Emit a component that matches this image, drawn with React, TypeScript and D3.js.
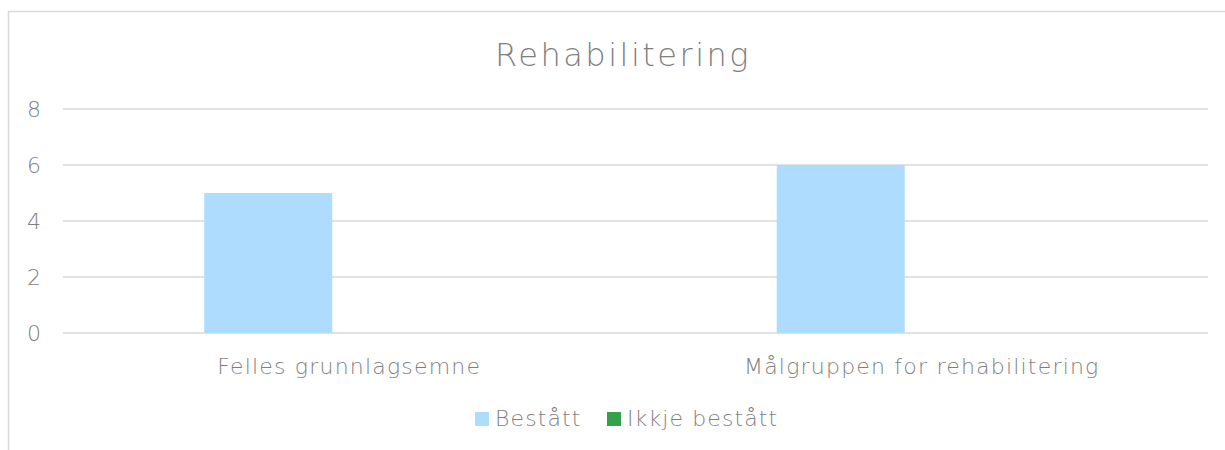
import * as d3 from "d3";

const categories = ["Felles grunnlagsemne", "Målgruppen for rehabilitering"];
const seriesNames = ["Bestått", "Ikkje bestått"];
const bestatt = [5, 6];
const ikkjeBestatt = [0, 0];
const yTickValues = [0, 2, 4, 6, 8];

const colors = ["#ADDCFE", "#34A04A"];
const textColor = "#7F7F7F";
const font = "'DejaVu Sans', Verdana, sans-serif";

export default function App() {
  const width = 1225;
  const height = 450;
  const marginLeft = 63;
  const marginRight = 17;
  const plotTop = 109;
  const plotBottom = 333;

  const series = [bestatt, ikkjeBestatt];

  const x0 = d3.scaleBand()
    .domain(categories)
    .range([marginLeft, width - marginRight])
    .paddingInner(0.4934)
    .paddingOuter(0.4934 / 2);

  const x1 = d3.scaleBand()
    .domain(seriesNames)
    .range([0, x0.bandwidth()])
    .paddingInner(0.21);

  const y = d3.scaleLinear().domain([0, 8]).range([plotBottom, plotTop]);

  // legend swatch positions
  const legendX = [475, 607];

  return (
    <svg
      width={width}
      height={height}
      style={{ position: "fixed", left: 0, top: 0, background: "#fff" }}
      fontFamily={font}
      fontWeight={200}
      fill={textColor}
    >
      {/* chart area border */}
      <rect x={8.5} y={11.5} width={1240} height={500} fill="#fff" stroke="#D9D9D9" strokeWidth={1.5} />

      <text x={623} y={66} textAnchor="middle" fontSize={32} letterSpacing={2.5} fill={textColor}>
        Rehabilitering
      </text>

      {/* gridlines + y ticks */}
      {yTickValues.map(t => (
        <g key={t}>
          <line
            x1={marginLeft}
            x2={width - marginRight}
            y1={y(t)}
            y2={y(t)}
            stroke="#D9D9D9"
            strokeWidth={1.5}
          />
          <text x={41} y={y(t)} dy="0.36em" textAnchor="end" fontSize={22} fill={textColor}>
            {t}
          </text>
        </g>
      ))}

      {/* bars */}
      {categories.map((c, i) => (
        <g key={c} transform={`translate(${x0(c)},0)`}>
          {seriesNames.map((s, j) => (
            <rect
              key={s}
              x={x1(s)}
              y={y(series[j][i])}
              width={x1.bandwidth()}
              height={y(0) - y(series[j][i])}
              fill={colors[j]}
            />
          ))}
        </g>
      ))}

      {/* category labels */}
      {categories.map(c => (
        <text
          key={c}
          x={(x0(c) ?? 0) + x0.bandwidth() / 2}
          y={374}
          textAnchor="middle"
          fontSize={22}
          letterSpacing={1.2}
          fill={textColor}
        >
          {c}
        </text>
      ))}

      {/* legend */}
      {seriesNames.map((s, j) => (
        <g key={s} transform={`translate(${legendX[j]},412)`}>
          <rect x={0} y={0} width={14} height={14} fill={colors[j]} />
          <text x={20} y={14} fontSize={22} letterSpacing={1.1} fill={textColor}>
            {s}
          </text>
        </g>
      ))}
    </svg>
  );
}
